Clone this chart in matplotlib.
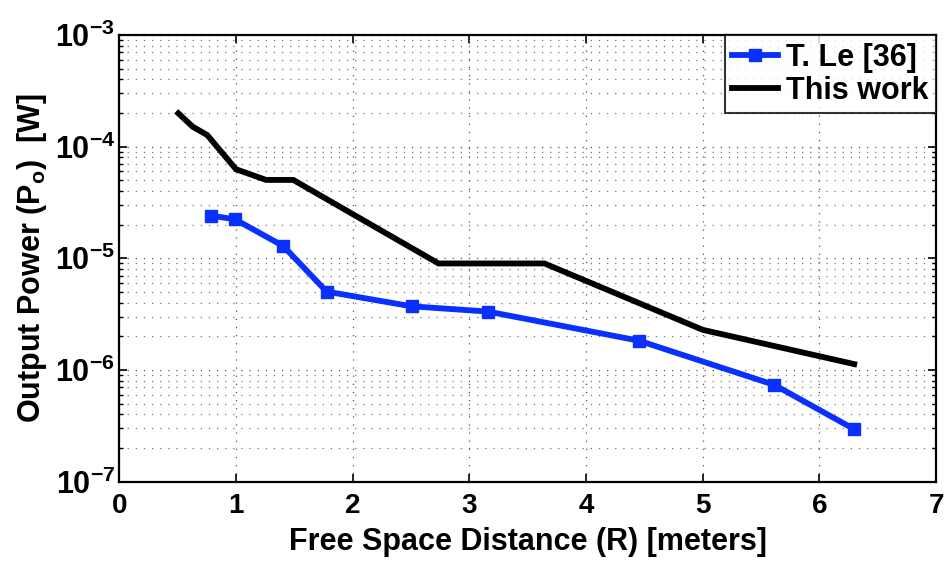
import matplotlib
matplotlib.use("Agg")
import matplotlib.pyplot as plt
from matplotlib.ticker import LogLocator, FixedLocator, NullFormatter

plt.rcParams["font.family"] = ["Liberation Sans", "DejaVu Sans"]
plt.rcParams["font.weight"] = "bold"
plt.rcParams["mathtext.fontset"] = "custom"
plt.rcParams["mathtext.rm"] = "Liberation Sans:bold"
plt.rcParams["mathtext.bf"] = "Liberation Sans:bold"
plt.rcParams["mathtext.it"] = "Liberation Sans:bold"

# Measured output power vs. distance
le_distance = [0.79, 0.99, 1.405, 1.777, 2.505, 3.158, 4.455, 5.614, 6.299]
le_power = [2.41e-5, 2.24e-5, 1.29e-5, 5.04e-6, 3.72e-6, 3.34e-6, 1.83e-6, 7.36e-7, 2.95e-7]

work_distance = [0.506, 0.629, 0.754, 1.0, 1.257, 1.491, 2.736, 3.644, 5.001, 6.299]
work_power = [1.99e-4, 1.51e-4, 1.27e-4, 6.28e-5, 5.04e-5, 5.04e-5, 9.0e-6, 9.0e-6, 2.29e-6, 1.13e-6]

x_ticks = [0, 1, 2, 3, 4, 5, 6, 7]
y_ticks = [1e-7, 1e-6, 1e-5, 1e-4, 1e-3]
y_tick_labels = [r"$\mathbf{10^{-7}}$", r"$\mathbf{10^{-6}}$", r"$\mathbf{10^{-5}}$",
                 r"$\mathbf{10^{-4}}$", r"$\mathbf{10^{-3}}$"]

fig = plt.figure(figsize=(9.49, 5.65), dpi=100)
ax = fig.add_axes([119.3 / 949, 1 - 481.7 / 565, (936 - 119.3) / 949, (481.7 - 35) / 565])

ax.plot(le_distance, le_power, color="#0a30ff", lw=4.2, marker="s", ms=9,
        label="T. Le [36]", solid_joinstyle="miter")
ax.plot(work_distance, work_power, color="black", lw=4.2, label="This work",
        solid_joinstyle="miter")

ax.set_yscale("log")
ax.set_xlim(0, 7)
ax.set_ylim(1e-7, 1e-3)
ax.xaxis.set_major_locator(FixedLocator(x_ticks))
ax.yaxis.set_major_locator(FixedLocator(y_ticks))
ax.yaxis.set_minor_locator(LogLocator(base=10, subs=range(2, 10)))
ax.yaxis.set_minor_formatter(NullFormatter())
ax.set_yticklabels(y_tick_labels)
ax.set_xticklabels([str(v) for v in x_ticks])

ax.tick_params(axis="both", which="major", direction="in", length=6, width=1.2,
               top=True, right=True)
ax.tick_params(axis="x", which="major", labelsize=20, pad=8)
ax.tick_params(axis="y", which="major", labelsize=22, pad=3)
ax.tick_params(axis="y", which="minor", direction="in", length=3, width=1.0,
               right=True, left=True)

ax.grid(True, which="major", axis="both", linestyle=(0, (1, 5.5)), color="#555555", lw=0.9)
ax.grid(True, which="minor", axis="y", linestyle=(0, (1, 5.5)), color="#777777", lw=0.9)

for s in ax.spines.values():
    s.set_linewidth(1.6)

ax.set_xlabel("Free Space Distance (R) [meters]", fontsize=22, fontweight="bold", labelpad=6)
ax.set_ylabel(r"Output Power (P$_{\mathbf{o}}$)  [W]", fontsize=22, fontweight="bold", labelpad=4)

leg = ax.legend(loc="upper right", fontsize=22, frameon=True, fancybox=False,
                borderaxespad=0.0, handlelength=1.5, handletextpad=0.25,
                borderpad=0.25, labelspacing=0.1, edgecolor="black")
leg.get_frame().set_linewidth(1.5)
for t in leg.get_texts():
    t.set_fontweight("bold")

fig.savefig("out.png", dpi=100)
